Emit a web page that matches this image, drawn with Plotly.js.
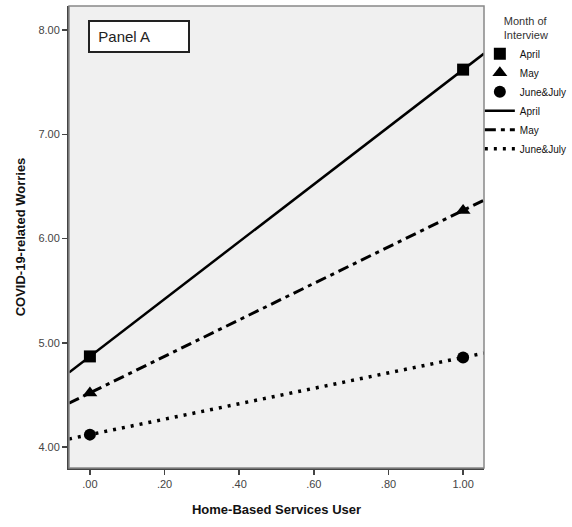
<!DOCTYPE html>
<html>
<head>
<meta charset="utf-8">
<script src="https://cdn.plot.ly/plotly-3.0.1.min.js"></script>
<style>
  html, body { margin: 0; padding: 0; background: #fff; }
  #chart { width: 572px; height: 527px; }
</style>
</head>
<body>
<div id="chart"></div>
<script>
// ---- data ----
const groups = ["April", "May", "June&July"];
const xValues = [0, 1];
const aprilMeans = [4.87, 7.62];
const mayMeans = [4.52, 6.27];
const juneJulyMeans = [4.12, 4.86];
const xTickVals = [0, 0.2, 0.4, 0.6, 0.8, 1.0];
const xTickText = [".00", ".20", ".40", ".60", ".80", "1.00"];
const yTickVals = [4, 5, 6, 7, 8];
const yTickText = ["4.00", "5.00", "6.00", "7.00", "8.00"];

// ---- styling ----
const xRange = [-0.056, 1.056];
const yRange = [3.80, 8.23];
const symbols = ["square", "triangle-up", "circle"];
const markerSizes = [12, 13, 12];
const lineDash = ["solid", "11px,5px,4px,5px", "3px,6px"];
const lineWidths = [2.5, 3, 3.5];
const allMeans = [aprilMeans, mayMeans, juneJulyMeans];

function extend(means) {
  const slope = (means[1] - means[0]) / (xValues[1] - xValues[0]);
  return {
    x: [xRange[0], xRange[1]],
    y: [means[0] + slope * (xRange[0] - xValues[0]), means[0] + slope * (xRange[1] - xValues[0])]
  };
}

const traces = [];
groups.forEach((g, i) => {
  traces.push({
    type: "scatter", mode: "markers", name: g,
    x: xValues, y: allMeans[i],
    marker: { symbol: symbols[i], size: markerSizes[i], color: "#000" },
    cliponaxis: false
  });
});
groups.forEach((g, i) => {
  const e = extend(allMeans[i]);
  traces.push({
    type: "scatter", mode: "lines", name: g,
    x: e.x, y: e.y,
    line: { color: "#000", width: lineWidths[i], dash: lineDash[i] }
  });
});

const layout = {
  width: 572, height: 527,
  margin: { l: 69, r: 88, t: 6, b: 59, autoexpand: false },
  paper_bgcolor: "#ffffff",
  plot_bgcolor: "#f0f0f0",
  font: { family: "Liberation Sans, Arial, sans-serif", size: 11, color: "#333" },
  showlegend: true,
  legend: {
    x: 0.99, xanchor: "left", y: 0.99, yanchor: "top",
    bgcolor: "rgba(0,0,0,0)",
    font: { size: 10, color: "#111" },
    itemwidth: 30,
    tracegroupgap: 0,
    title: { text: "Month of<br>Interview", side: "top center", font: { size: 11, color: "#333" } }
  },
  xaxis: {
    range: xRange, showgrid: false, zeroline: false,
    showline: true, linecolor: "#444", linewidth: 2,
    ticks: "outside", ticklen: 5, tickwidth: 1.5, tickcolor: "#444",
    tickvals: xTickVals, ticktext: xTickText,
    tickfont: { size: 11, color: "#444" },
    title: { text: "<b>Home-Based Services User</b>", font: { size: 13, color: "#111" }, standoff: 16 }
  },
  yaxis: {
    range: yRange, showgrid: false, zeroline: false,
    showline: true, linecolor: "#444", linewidth: 2,
    ticks: "outside", ticklen: 5, tickwidth: 1.5, tickcolor: "#444",
    tickvals: yTickVals, ticktext: yTickText,
    tickfont: { size: 11, color: "#444" },
    title: { text: "<b>COVID-19-related Worries</b>", font: { size: 13, color: "#111" }, standoff: 10 }
  },
  shapes: [
    { type: "rect", xref: "paper", yref: "paper", x0: 0, x1: 1, y0: 0, y1: 1,
      line: { color: "#888", width: 1.5 }, fillcolor: "rgba(0,0,0,0)", layer: "above" }
  ],
  annotations: [
    { xref: "paper", yref: "paper", x: 0.1675, y: 0.933, xanchor: "center", yanchor: "middle",
      text: "&nbsp;&nbsp;Panel A", showarrow: false, align: "left",
      width: 98, height: 29, bgcolor: "#ffffff", bordercolor: "#222", borderwidth: 2, borderpad: 0,
      font: { size: 15, color: "#222" } }
  ]
};

Plotly.newPlot("chart", traces, layout, { displayModeBar: false, staticPlot: true });
</script>
</body>
</html>
